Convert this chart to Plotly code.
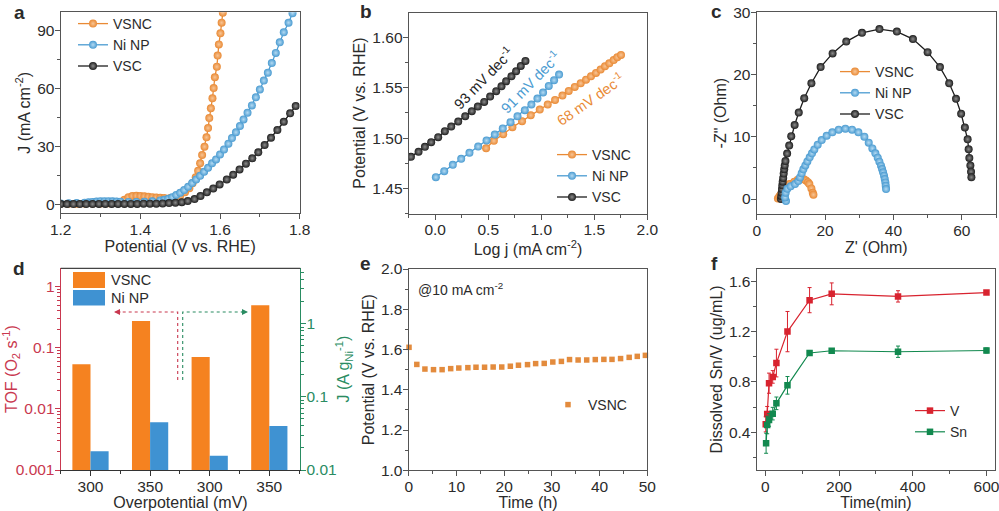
import plotly.graph_objects as go

# panel a - LSV curves
a_vsnc_x = [1.20, 1.22, 1.24, 1.26, 1.28, 1.30, 1.32, 1.34, 1.35, 1.36, 1.37, 1.38, 1.39, 1.40, 1.41, 1.42, 1.43, 1.44, 1.45, 1.46, 1.475, 1.487,
            1.500, 1.512, 1.523, 1.531, 1.539, 1.545, 1.550, 1.555, 1.561, 1.566, 1.570, 1.573, 1.577, 1.581, 1.584, 1.587, 1.592, 1.594, 1.597, 1.601, 1.604, 1.607]
a_vsnc_y = [0.2, 0.2, 0.2, 0.3, 0.3, 0.3, 0.4, 0.5, 1.0, 2.2, 3.6, 4.2, 4.3, 4.2, 4.0, 3.8, 3.6, 3.4, 3.3, 3.2, 3.2, 3.5,
            4.3, 6.1, 8.2, 10.8, 13.9, 17.3, 21.2, 25.5, 29.8, 34.7, 39.5, 44.7, 49.8, 55.0, 60.3, 65.9, 71.4, 77.2, 83.0, 88.8, 94.3, 99.5]
a_ni_x = [1.20, 1.22, 1.24, 1.26, 1.27, 1.28, 1.29, 1.30, 1.31, 1.32, 1.33, 1.34, 1.35, 1.37, 1.39, 1.41, 1.43, 1.45, 1.46, 1.47, 1.480, 1.490, 1.500,
          1.510, 1.520, 1.530, 1.540, 1.550, 1.560, 1.570, 1.580, 1.590, 1.600, 1.610, 1.621, 1.630, 1.640, 1.650, 1.659, 1.669, 1.680, 1.690, 1.700, 1.710, 1.720, 1.730, 1.740, 1.750, 1.760, 1.772, 1.782]
a_ni_y = [0.3, 0.4, 0.5, 0.7, 0.9, 1.1, 1.3, 1.5, 1.5, 1.5, 1.4, 1.3, 1.2, 1.1, 1.1, 1.2, 1.4, 1.9, 2.2, 2.7, 3.5, 4.7, 5.9,
          7.3, 9.0, 10.9, 12.8, 14.7, 16.8, 18.9, 21.2, 23.2, 25.8, 28.4, 31.4, 34.3, 37.3, 40.6, 44.0, 47.5, 51.3, 55.5, 59.6, 64.2, 68.3, 73.3, 78.6, 84.1, 89.3, 94.3, 99.2]
a_vsc_x = [1.200, 1.216, 1.232, 1.248, 1.264, 1.280, 1.296, 1.312, 1.328, 1.344, 1.360, 1.376, 1.392, 1.408, 1.424, 1.440, 1.456, 1.472, 1.488,
           1.504, 1.519, 1.536, 1.551, 1.567, 1.583, 1.599, 1.617, 1.633, 1.649, 1.665, 1.681, 1.696, 1.712, 1.728, 1.744, 1.760, 1.776, 1.790]
a_vsc_y = [0.0, 0.0, 0.0, 0.0, 0.0, 0.0, 0.1, 0.1, 0.1, 0.1, 0.1, 0.1, 0.1, 0.2, 0.2, 0.2, 0.3, 0.5, 0.7,
           1.0, 1.6, 2.6, 4.2, 6.1, 8.1, 10.2, 12.8, 15.3, 18.0, 21.0, 23.8, 26.9, 30.7, 34.5, 38.5, 42.8, 47.2, 51.0]

# panel b - Tafel
b_vsnc_x = [0.480, 0.553, 0.641, 0.728, 0.819, 0.901, 0.986, 1.061, 1.130, 1.200, 1.259, 1.316, 1.372, 1.422, 1.469, 1.516, 1.560, 1.601, 1.642, 1.683, 1.717, 1.752]
b_vsnc_y = [1.4900, 1.4973, 1.5039, 1.5108, 1.5168, 1.5227, 1.5283, 1.5333, 1.5379, 1.5422, 1.5468, 1.5508, 1.5544, 1.5580, 1.5613, 1.5647, 1.5680, 1.5713, 1.5742, 1.5775, 1.5802, 1.5825]
b_ni_x = [0.006, 0.085, 0.166, 0.245, 0.323, 0.405, 0.484, 0.562, 0.637, 0.710, 0.776, 0.845, 0.907, 0.964, 1.017, 1.071, 1.121, 1.168]
b_ni_y = [1.4612, 1.4672, 1.4735, 1.4794, 1.4854, 1.4916, 1.4976, 1.5035, 1.5095, 1.5158, 1.5217, 1.5277, 1.5333, 1.5392, 1.5452, 1.5518, 1.5574, 1.5630]
b_vsc_x = [-0.229, -0.157, -0.097, -0.038, 0.028, 0.091, 0.151, 0.217, 0.283, 0.345, 0.402, 0.462, 0.518, 0.575, 0.625, 0.669, 0.719, 0.763, 0.807, 0.851]
b_vsc_y = [1.4814, 1.4864, 1.4913, 1.4959, 1.5009, 1.5068, 1.5115, 1.5164, 1.5217, 1.5267, 1.5313, 1.5359, 1.5412, 1.5465, 1.5514, 1.5564, 1.5613, 1.5663, 1.5716, 1.5765]

# panel c - Nyquist
c_vsnc_x = [6.2, 6.6, 7.0, 7.5, 8.0, 8.6, 9.6, 11.0, 12.0, 13.0, 13.8, 14.4, 15.0, 15.4, 16.0, 16.4, 16.6]
c_vsnc_y = [0.1, 0.4, 0.7, 1.0, 1.4, 1.9, 2.4, 2.8, 3.1, 3.2, 3.2, 3.0, 2.7, 2.4, 1.7, 1.0, 0.7]
c_ni_x = [8.57, 8.28, 8.47, 8.96, 9.94, 11.21, 12.18, 12.67, 13.16, 13.65, 14.23, 14.82, 15.5, 16.18, 16.86, 17.84, 19.01, 20.47, 22.13, 23.99, 25.94, 27.89, 29.74, 31.5, 32.77, 33.84, 34.72, 35.4, 35.89, 36.37, 36.67, 36.96, 37.25, 37.45, 37.64, 37.74, 37.84]
c_ni_y = [-0.32, 0.27, 1.02, 1.66, 2.04, 2.41, 2.89, 3.48, 4.13, 4.77, 5.41, 6.05, 6.7, 7.34, 7.98, 8.73, 9.48, 10.18, 10.72, 11.15, 11.31, 11.15, 10.72, 10.02, 9.06, 8.14, 7.34, 6.64, 6.0, 5.36, 4.82, 4.29, 3.75, 3.21, 2.68, 2.14, 1.61]
c_vsc_x = [7.1, 7.2, 7.3, 7.4, 7.5, 7.6, 7.75, 7.9, 8.05, 8.2, 8.4, 8.9, 9.5, 10.1, 11.1, 12.3, 13.9, 16.0, 18.7, 22.2, 26.2, 30.8, 35.9, 41.0, 45.7, 50.0, 53.6, 56.3, 58.3, 59.8, 60.9, 61.7, 62.0, 62.2, 62.5, 62.7, 62.8]
c_vsc_y = [0.0, 0.5, 1.0, 1.6, 2.2, 2.8, 3.4, 4.1, 4.8, 5.4, 6.1, 7.3, 8.6, 10.1, 11.9, 13.9, 16.2, 18.6, 21.2, 23.4, 25.3, 26.7, 27.3, 26.9, 25.7, 23.6, 21.2, 18.6, 16.1, 13.7, 11.5, 9.6, 8.0, 6.6, 5.4, 4.4, 3.5]

# panel d - bars, first pair read on the TOF axis, second pair on the J axis
d_labels = ["300", "350", "300", "350"]
d_tof_vsnc = [0.0537, 0.275]
d_tof_ni = [0.00202, 0.00603]
d_j_vsnc = [0.35, 1.78]
d_j_ni = [0.0157, 0.040]

# panel e - stability
e_time = [0.07, 1.7, 3.4, 5.2, 7.0, 8.8, 10.5, 12.4, 14.1, 15.9, 17.7, 19.5, 21.3, 23.0, 24.9, 26.6, 28.4, 30.2, 32.0, 33.7, 35.5, 37.3, 39.1, 40.9, 42.6, 44.4, 46.2, 47.9, 49.6]
e_pot = [1.611, 1.526, 1.503, 1.500, 1.500, 1.505, 1.508, 1.510, 1.512, 1.512, 1.513, 1.513, 1.517, 1.522, 1.525, 1.530, 1.531, 1.538, 1.541, 1.550, 1.548, 1.548, 1.550, 1.551, 1.551, 1.555, 1.561, 1.566, 1.571]

# panel f - dissolution
f_v_time = [1, 5, 10, 20, 30, 60, 120, 180, 360, 600]
f_v = [0.463, 0.545, 0.79, 0.84, 0.95, 1.20, 1.45, 1.50, 1.48, 1.51]
f_v_err = [0.06, 0.06, 0.08, 0.05, 0.11, 0.16, 0.10, 0.087, 0.045, 0.01]
f_sn_time = [2, 5, 10, 20, 30, 60, 120, 180, 360, 600]
f_sn = [0.313, 0.458, 0.498, 0.548, 0.63, 0.773, 1.03, 1.048, 1.04, 1.05]
f_sn_err = [0.08, 0.07, 0.05, 0.05, 0.05, 0.07, 0.02, 0.01, 0.045, 0.02]

ORANGE = "#E98A35"
BLUE = "#4A9BD1"
BLACK = "#1E1E1E"
RED = "#D8232F"
GREEN = "#12894F"
TOF_RED = "#C9384F"
J_GREEN = "#2A8C62"
TEXT = "#2B2B2B"
FONT = "Liberation Sans"
TICK_SIZE = 15.5
TITLE_SIZE = 16
W, H = 999, 511


def xp(px):
    return px / W


def yp(py):
    return 1 - py / H


def ball(name, x, y, color, core, ax, legend, rank=None):
    return go.Scatter(x=x, y=y, name=name, mode="lines+markers", xaxis="x" + ax, yaxis="y" + ax, legend=legend,
                      line=dict(color=color, width=1.3), legendrank=rank if rank else 1000,
                      marker=dict(size=8, color=color, gradient=dict(type="radial", color=core), line=dict(width=0)))


def axis(left, right, rng, major, minor_step, anchor, title, standoff=2, color=TEXT, line="#555555", **kw):
    d = dict(domain=[left, right], range=rng, anchor=anchor, showgrid=False, zeroline=False, automargin=False,
             showline=True, mirror=True, linecolor=line, linewidth=1.2, ticks="outside", ticklen=5, tickwidth=1,
             tickcolor=line, tickfont=dict(family=FONT, size=TICK_SIZE, color=color),
             ticklabelstandoff=-3, ticklabeloverflow="allow",
             title=dict(text=title, standoff=standoff, font=dict(family=FONT, size=TITLE_SIZE, color=color)),
             minor=dict(ticks="outside", ticklen=3, tickwidth=1, tickcolor=line, dtick=minor_step, showgrid=False))
    if major is not None:
        d["dtick"] = major
    d.update(kw)
    return d


def legend_at(px, py, size=14):
    return dict(x=xp(px - 40), y=yp(py), xanchor="left", yanchor="top", bgcolor="rgba(0,0,0,0)", borderwidth=0,
                itemwidth=30, font=dict(family=FONT, size=size, color=TEXT))


fig = go.Figure()

fig.add_trace(ball("VSNC", a_vsnc_x, a_vsnc_y, ORANGE, "#F8C596", "", "legend"))
fig.add_trace(ball("Ni NP", a_ni_x, a_ni_y, BLUE, "#B4DAF2", "", "legend"))
fig.add_trace(ball("VSC", a_vsc_x, a_vsc_y, BLACK, "#8C8C8C", "", "legend"))

fig.add_trace(ball("VSNC", b_vsnc_x, b_vsnc_y, ORANGE, "#F8C596", "2", "legend2"))
fig.add_trace(ball("Ni NP", b_ni_x, b_ni_y, BLUE, "#B4DAF2", "2", "legend2"))
fig.add_trace(ball("VSC", b_vsc_x, b_vsc_y, BLACK, "#8C8C8C", "2", "legend2"))

fig.add_trace(ball("VSNC", c_vsnc_x, c_vsnc_y, ORANGE, "#F8C596", "3", "legend3", 1))
fig.add_trace(ball("VSC", c_vsc_x, c_vsc_y, BLACK, "#8C8C8C", "3", "legend3", 3))
fig.add_trace(ball("Ni NP", c_ni_x, c_ni_y, BLUE, "#B4DAF2", "3", "legend3", 2))

# bars share one width, so each group starts half way around its tick
bar_w = 0.304
for pos, vsnc, ni, ya in [([0, 1], d_tof_vsnc, d_tof_ni, "y4"), ([2, 3], d_j_vsnc, d_j_ni, "y7")]:
    fig.add_trace(go.Bar(x=pos, y=vsnc, width=bar_w, offset=-bar_w, marker=dict(color="#F58220", line=dict(width=0)),
                         xaxis="x4", yaxis=ya, showlegend=False))
    fig.add_trace(go.Bar(x=pos, y=ni, width=bar_w, offset=0, marker=dict(color="#3F92D2", line=dict(width=0)),
                         xaxis="x4", yaxis=ya, showlegend=False))

fig.add_trace(go.Scatter(x=e_time, y=e_pot, name="VSNC", mode="markers", xaxis="x5", yaxis="y5", legend="legend5", cliponaxis=False,
                         marker=dict(symbol="square", size=5.5, color="#E38B3D", line=dict(width=0))))

for name, t, val, err, col in [("V", f_v_time, f_v, f_v_err, RED), ("Sn", f_sn_time, f_sn, f_sn_err, GREEN)]:
    fig.add_trace(go.Scatter(x=t, y=val, name=name, mode="lines+markers", xaxis="x6", yaxis="y6", legend="legend6",
                             error_y=dict(type="data", array=err, color=col, thickness=1, width=2),
                             line=dict(color=col, width=1.2), marker=dict(symbol="square", size=6.5, color=col)))

fig.update_layout(
    width=W, height=H, margin=dict(l=0, r=0, t=0, b=0), paper_bgcolor="white", plot_bgcolor="white",
    font=dict(family=FONT, color=TEXT), barmode="overlay",
    xaxis=axis(xp(60.7), xp(299.7), [1.2, 1.8], 0.2, 0.1, "y", "Potential (V vs. RHE)"),
    yaxis=axis(yp(213.3), yp(12.3), [-4.8, 99.7], 30, 15, "x", "J (mA cm<sup>-2</sup>)"),
    xaxis2=axis(xp(408.7), xp(647.3), [-0.25, 2.0], 0.5, 0.25, "y2", "Log j (mA cm<sup>-2</sup>)", tick0=0, tickformat=".1f"),
    yaxis2=axis(yp(213.7), yp(12.5), [1.425, 1.6246], 0.05, 0.025, "x2", "Potential (V vs. RHE)", tick0=1.45, tickformat=".2f"),
    xaxis3=axis(xp(756.7), xp(996), [0, 70], 20, 10, "y3", "Z' (Ohm)"),
    yaxis3=axis(yp(214), yp(12.3), [-2.4, 30], 10, 5, "x3", '-Z" (Ohm)'),
    xaxis4=axis(xp(60.7), xp(300.3), [-0.5, 3.52], None, 0.5, "y4", "Overpotential (mV)", tickvals=[0, 1, 2, 3], ticktext=d_labels, line="#333333", mirror=False),
    yaxis4=axis(yp(470), yp(268.3), [-3, 0.3], None, "D1", "x4", "TOF (O<sub>2</sub> s<sup>-1</sup>)", standoff=0, color=TOF_RED, line=TOF_RED, type="log",
                tickvals=[0.001, 0.01, 0.1, 1], ticktext=["0.001", "0.01", "0.1", "1"], mirror=False),
    yaxis7=axis(yp(470), yp(268.3), [-2, 0.757], None, "D1", "x4", "J (A g<sub>Ni</sub><sup>-1</sup>)", color=J_GREEN, line=J_GREEN, type="log",
                overlaying="y4", side="right", tickvals=[0.01, 0.1, 1], ticktext=["0.01", "0.1", "1"], mirror=False),
    xaxis5=axis(xp(408.7), xp(647.3), [0, 50], 10, 5, "y5", "Time (h)"),
    yaxis5=axis(yp(470.3), yp(269), [1.0, 2.0], 0.2, 0.1, "x5", "Potential (V vs. RHE)", tick0=1.0, tickformat=".1f"),
    xaxis6=axis(xp(756.7), xp(995.3), [-23.5, 624], 200, 100, "y6", "Time(min)", tick0=0),
    yaxis6=axis(yp(470), yp(268.7), [0.1, 1.7], 0.4, 0.2, "x6", "Dissolved Sn/V (ug/mL)", tick0=0.4, tickformat=".1f"),
    legend=legend_at(113, 8),
    legend2=legend_at(592, 139),
    legend3=legend_at(875, 56),
    legend5=legend_at(588, 389),
    legend6=legend_at(950, 395),
)

# top edge of panel d
fig.add_shape(type="line", xref="paper", yref="paper", x0=xp(60.7), x1=xp(300.3), y0=yp(268.3), y1=yp(268.3), line=dict(color="#444444", width=1.2))

# panel d legend patches
fig.add_shape(type="rect", xref="paper", yref="paper", x0=xp(73), x1=xp(105), y0=yp(272), y1=yp(288), fillcolor="#F58220", line=dict(width=0))
fig.add_shape(type="rect", xref="paper", yref="paper", x0=xp(73), x1=xp(105), y0=yp(290), y1=yp(305.5), fillcolor="#3F92D2", line=dict(width=0))

# dotted guide lines pointing at the two y axes
fig.add_shape(type="path", xref="paper", yref="paper", path=f"M {xp(177.7)} {yp(380)} L {xp(177.7)} {yp(312)} L {xp(118)} {yp(312)}",
              line=dict(color=TOF_RED, width=1.1, dash="dot"))
fig.add_shape(type="path", xref="paper", yref="paper", path=f"M {xp(182.7)} {yp(380)} L {xp(182.7)} {yp(312)} L {xp(244)} {yp(312)}",
              line=dict(color=J_GREEN, width=1.1, dash="dot"))

notes = [
    ("a", 12, 12, 19, TEXT, True), ("b", 358, 11, 19, TEXT, True), ("c", 709, 11, 19, TEXT, True),
    ("d", 11, 268, 19, TEXT, True), ("e", 358, 263, 19, TEXT, True), ("f", 709, 263, 19, TEXT, True),
    ("VSNC", 109, 280, 14.5, TEXT, False), ("Ni NP", 109, 298, 14.5, TEXT, False),
    ("@10 mA cm<sup>-2</sup>", 416, 289, 14, TEXT, False),
]
for text, x, y, size, col, bold in notes:
    fig.add_annotation(text=f"<b>{text}</b>" if bold else text, xref="paper", yref="paper", x=xp(x), y=yp(y),
                       xanchor="left", yanchor="middle", showarrow=False,
                       font=dict(family=FONT, size=size, color=col))

for text, x, y, col, ang in [("93 mV dec<sup>-1</sup>", 483, 78, BLACK, -46), ("91 mV dec<sup>-1</sup>", 530, 82, BLUE, -46),
                             ("68 mV dec<sup>-1</sup>", 590, 99, ORANGE, -35)]:
    fig.add_annotation(text=text, xref="paper", yref="paper", x=xp(x), y=yp(y), xanchor="center", yanchor="middle",
                       showarrow=False, textangle=ang, font=dict(family=FONT, size=14.5, color=col))

# arrow heads of the guide lines
for x, ax, col in [(114, 122, TOF_RED), (248, 240, J_GREEN)]:
    fig.add_annotation(text="", xref="paper", yref="paper", x=xp(x), y=yp(312), ax=ax - x, ay=0, showarrow=True,
                       arrowhead=2, arrowsize=1, arrowwidth=1.2, arrowcolor=col)

fig.write_html("out.html", config=dict(displayModeBar=False), post_script="document.body.style.margin='0';document.body.style.overflow='hidden';")
